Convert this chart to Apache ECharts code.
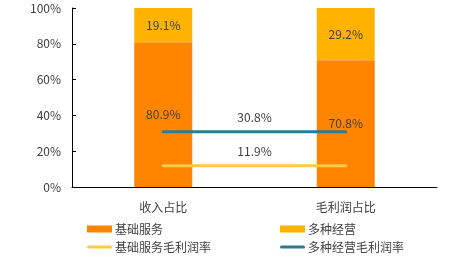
<!DOCTYPE html>
<html><head><meta charset="utf-8">
<script src="https://cdn.jsdelivr.net/npm/echarts@6/dist/echarts.min.js"></script>
<style>html,body{margin:0;padding:0;background:#fff}#c{width:475px;height:262px}</style>
</head><body><div id="c"></div>
<script>
var categories = ['收入占比', '毛利润占比'];
var basicService = [80.9, 70.8];
var diversified = [19.1, 29.2];
var basicMargin = [11.9, 11.9];
var diversifiedMargin = [30.8, 30.8];
var yTicks = [0, 20, 40, 60, 80, 100];

var FONT = '"Noto Sans CJK SC","Noto Sans",sans-serif';
var TXT = '#404040';
var LINE_ICON = 'path://M0,0L0,0ZM0,7L0,7ZM1.5,2L23.5,2A1.5,1.5 0 0 1 23.5,5L1.5,5A1.5,1.5 0 0 1 1.5,2Z';
function lineMark(v){
  return {
    silent: true, symbol: 'none',
    lineStyle: {color: 'rgba(0,0,0,0)', width: 1, type: 'solid'},
    label: {show: true, position: 'middle', formatter: v.toFixed(1) + '%', color: TXT, fontSize: 12, fontFamily: FONT, distance: 8},
    data: [[{coord: [0, v]}, {coord: [1, v]}]]
  };
}
var legendBase = {orient: 'vertical', top: 222, padding: 0, itemWidth: 25, itemHeight: 7, itemGap: 4,
  textStyle: {color: TXT, fontSize: 12, fontFamily: FONT, lineHeight: 14, padding: [0, 0, 0, -2]}};
var chart = echarts.init(document.getElementById('c'));
chart.setOption({
  animation: false,
  textStyle: {fontFamily: FONT},
  grid: {left: 72, right: 38, top: 8, bottom: 75},
  legend: [
    Object.assign({}, legendBase, {left: 87,
     data: [{name: '基础服务', icon: 'rect'}, {name: '基础服务毛利润率', icon: LINE_ICON}]}),
    Object.assign({}, legendBase, {left: 280,
     data: [{name: '多种经营', icon: 'rect'}, {name: '多种经营毛利润率', icon: LINE_ICON}]})
  ],
  xAxis: {
    type: 'category', data: categories, boundaryGap: true,
    axisLine: {lineStyle: {color: '#000', width: 1}},
    axisTick: {inside: true, length: 4, lineStyle: {color: '#000'}},
    axisLabel: {color: TXT, fontSize: 12, margin: 14, fontFamily: FONT}
  },
  yAxis: {
    type: 'value', min: yTicks[0], max: yTicks[yTicks.length - 1], interval: 20,
    axisLine: {show: true, lineStyle: {color: '#000', width: 1}},
    axisTick: {show: true, inside: true, length: 4, lineStyle: {color: '#000'}},
    splitLine: {show: false},
    axisLabel: {color: TXT, fontSize: 12, margin: 11, formatter: '{value}%', fontFamily: FONT}
  },
  series: [
    {name: '基础服务', type: 'bar', stack: 's', data: basicService, barWidth: 58,
     itemStyle: {color: '#FF8400'},
     label: {show: true, position: 'inside', color: TXT, fontSize: 12, formatter: function(p){return p.value.toFixed(1) + '%';}}},
    {name: '多种经营', type: 'bar', stack: 's', data: diversified, barWidth: 58,
     itemStyle: {color: '#FFB300'},
     label: {show: true, position: 'inside', color: TXT, fontSize: 12, formatter: function(p){return p.value.toFixed(1) + '%';}}},
    {name: '基础服务毛利润率', type: 'line', data: basicMargin, symbol: 'none',
     itemStyle: {color: '#FFC94A'},
     lineStyle: {color: '#FFC94A', width: 3, cap: 'round'},
     markLine: lineMark(basicMargin[0])},
    {name: '多种经营毛利润率', type: 'line', data: diversifiedMargin, symbol: 'none',
     itemStyle: {color: '#327A8E'},
     lineStyle: {color: '#327A8E', width: 3, cap: 'round'},
     markLine: lineMark(diversifiedMargin[0])}
  ]
});
</script></body></html>
